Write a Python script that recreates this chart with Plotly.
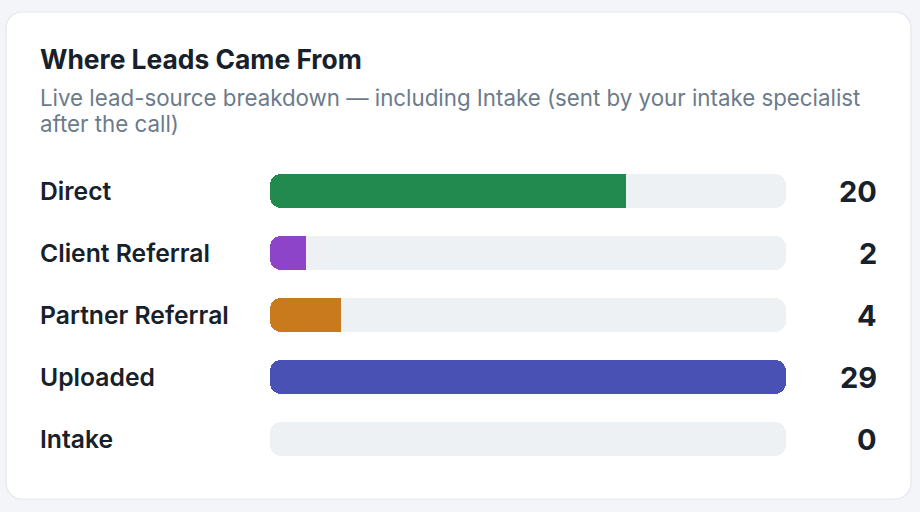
import plotly.graph_objects as go

categories = ["Direct", "Client Referral", "Partner Referral", "Uploaded", "Intake"]
values = [20, 2, 4, 29, 0]
bar_colors = ["#228a4e", "#8e44c9", "#c97a1c", "#4a51b4", "#9aa5b1"]

W, H = 920, 512
L, R = 270, 786        # track pixel extent
T, B = 160, 470        # plot area pixel extent
def xp(px): return (px - L) / (R - L)
def yp(py): return (B - py) / (B - T)

maxv = max(values)
FONT = "Inter"
DARK = "#17212b"
TRACK = "#eef1f4"
RAD = 11

fig = go.Figure()
common = dict(orientation="h", width=34 / 62, hoverinfo="skip", showlegend=False)

def add_rounded_bars(vals, colors, right_round_mask):
    # full bar drawn from its end back towards zero, so the rounded tip sits at the left
    fig.add_trace(go.Bar(x=[-v for v in vals], y=categories, base=list(vals),
                         marker=dict(color=colors, cornerradius=RAD, line=dict(width=0)), **common))
    # right half overlay: rounded only where the bar fills the whole track, square otherwise
    mids = [v / 2 for v in vals]
    for rounded in (False, True):
        xs = [m if (mk == rounded and m > 0) else 0 for m, mk in zip(mids, right_round_mask)]
        fig.add_trace(go.Bar(x=xs, y=categories, base=mids,
                             marker=dict(color=colors, cornerradius=RAD if rounded else 0,
                                         line=dict(width=0)), **common))

# track
add_rounded_bars([maxv] * len(categories), [TRACK] * len(categories), [True] * len(categories))
# values
add_rounded_bars(values, bar_colors, [v >= maxv for v in values])

# card background
x0, x1, y0, y1 = xp(6), xp(911), yp(499), yp(12)
rx, ry = 16 / (R - L), 16 / (B - T)
k = 0.45
path = (f"M {x0+rx},{y0} L {x1-rx},{y0} C {x1-rx*k},{y0} {x1},{y0+ry*k} {x1},{y0+ry} "
        f"L {x1},{y1-ry} C {x1},{y1-ry*k} {x1-rx*k},{y1} {x1-rx},{y1} "
        f"L {x0+rx},{y1} C {x0+rx*k},{y1} {x0},{y1-ry*k} {x0},{y1-ry} "
        f"L {x0},{y0+ry} C {x0},{y0+ry*k} {x0+rx*k},{y0} {x0+rx},{y0} Z")
fig.add_shape(type="path", path=path, xref="paper", yref="paper", layer="below",
              fillcolor="#ffffff", line=dict(color="#e3e7ec", width=1.2))

LX = xp(38)
ann = []
ann.append(dict(text="Where Leads Came From", x=LX, y=yp(59), xref="paper", yref="paper",
                xanchor="left", yanchor="middle", showarrow=False,
                font=dict(family=FONT, size=26.4, color=DARK, weight=700)))
ann.append(dict(text="Live lead-source breakdown — including Intake (sent by your intake specialist",
                x=LX, y=yp(97), xref="paper", yref="paper", xanchor="left", yanchor="middle",
                showarrow=False, font=dict(family=FONT, size=22.3, color="#6b7b8b")))
ann.append(dict(text="after the call)",
                x=LX, y=yp(124), xref="paper", yref="paper", xanchor="left", yanchor="middle",
                showarrow=False, font=dict(family=FONT, size=22.3, color="#6b7b8b")))
for c, v in zip(categories, values):
    ann.append(dict(text=c, x=LX, y=c, xref="paper", yref="y", xanchor="left", yanchor="middle",
                    showarrow=False, font=dict(family=FONT, size=24.7, color=DARK, weight=600)))
    ann.append(dict(text=str(v), x=xp(879), y=c, xref="paper", yref="y", xanchor="right",
                    yanchor="middle", showarrow=False,
                    font=dict(family=FONT, size=29, color=DARK, weight=700)))

fig.update_layout(
    width=W, height=H, margin=dict(l=L, r=W - R, t=T, b=H - B),
    paper_bgcolor="#f3f5f8", plot_bgcolor="rgba(0,0,0,0)",
    barmode="overlay", bargap=0, annotations=ann,
    xaxis=dict(range=[0, maxv], visible=False, fixedrange=True),
    yaxis=dict(range=[len(categories) - 0.5, -0.5], visible=False, fixedrange=True),
)
fig.write_html("out.html", config={"displayModeBar": False})
